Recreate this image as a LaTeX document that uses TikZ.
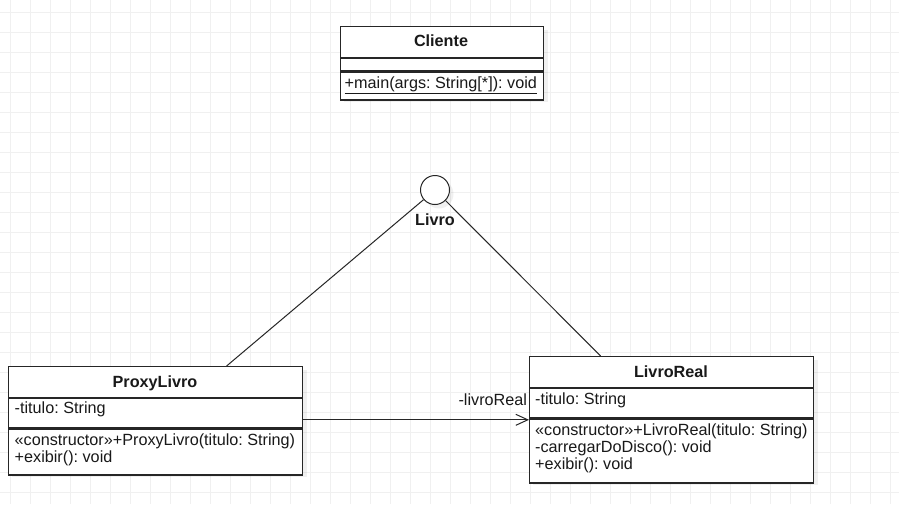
\documentclass[tikz,border=0pt]{standalone}
\usepackage{fontspec}
\setmainfont{Liberation Sans}
\usetikzlibrary{arrows.meta,calc}
\frenchspacing
\begin{document}
\begin{tikzpicture}[x=1pt,y=-1pt,
  gridst/.style={draw=black!6, line width=1pt},
  comp/.style={draw=black!85, line width=1.2pt, fill=white, rectangle, inner sep=0pt, anchor=north west},
  shadowst/.style={fill=black, opacity=0.06},
  txt/.style={inner sep=0pt, font=\fontsize{16.2}{17}\selectfont, text=black!90},
  btxt/.style={txt, font=\fontsize{16.2}{17}\selectfont\bfseries},
  edge/.style={draw=black!85, line width=1pt},
  assoc/.style={edge, -{Straight Barb[length=12pt,width=11pt,line width=1pt]}}
]
\useasboundingbox (0,0) rectangle (899,504);
\fill[white] (0,0) rectangle (899,504);
% grid
\foreach \gx in {10,30,...,890} \draw[gridst] (\gx,0) -- (\gx,504);
\foreach \gy in {12,32,...,492} \draw[gridst] (0,\gy) -- (899,\gy);

% shadows
\fill[shadowst] (344,30) rectangle (548,102);
\fill[shadowst] (12,370) rectangle (307,477);
\fill[shadowst] (533,360) rectangle (818,485);
\fill[shadowst] (439,194) circle (14.5);

% Cliente
\node[comp, minimum width=203pt, minimum height=31pt] (clH) at (340,26) {};
\node[comp, minimum width=203pt, minimum height=12pt] (clA) at (clH.south west) {};
\node[comp, minimum width=203pt, minimum height=28pt] (clM) at (clA.south west) {};
\node[btxt, anchor=base] (clHt) at (441,46.5) {Cliente};
\node[txt, anchor=base west] (clMt) at (344.5,88) {\underline{+main(args: String[*]): void}};

% Livro interface
\node[circle, draw=black!85, line width=1pt, fill=white, minimum size=29pt, inner sep=0pt] (livro) at (435,190) {};
\node[btxt, anchor=base] (livroL) at (435,225) {Livro};

% ProxyLivro
\node[comp, minimum width=294pt, minimum height=31pt] (pxH) at (8,366) {};
\node[comp, minimum width=294pt, minimum height=29pt] (pxA) at (pxH.south west) {};
\node[comp, minimum width=294pt, minimum height=46pt] (pxM) at (pxA.south west) {};
\node[btxt, anchor=base] (pxHt) at (155,387) {ProxyLivro};
\node[txt, anchor=base west] (pxAt) at (14.5,413.5) {-titulo: String};
\node[txt, anchor=base west] (pxM1) at (14.5,445) {«constructor»+ProxyLivro(titulo: String)};
\node[txt, anchor=base west] (pxM2) at (14.5,462) {+exibir(): void};

% LivroReal
\node[comp, minimum width=284pt, minimum height=31pt] (lrH) at (529,356) {};
\node[comp, minimum width=284pt, minimum height=29pt] (lrA) at (lrH.south west) {};
\node[comp, minimum width=284pt, minimum height=64pt] (lrM) at (lrA.south west) {};
\node[btxt, anchor=base] (lrHt) at (671,377) {LivroReal};
\node[txt, anchor=base west] (lrAt) at (535,404) {-titulo: String};
\node[txt, anchor=base west] (lrM1) at (535,435) {«constructor»+LivroReal(titulo: String)};
\node[txt, anchor=base west] (lrM2) at (535,452) {-carregarDoDisco(): void};
\node[txt, anchor=base west] (lrM3) at (535,469) {+exibir(): void};

% connectors
\draw[edge] (livro) -- ([xshift=71pt]pxH.north);
\draw[edge] (livro) -- ([xshift=-71pt]lrH.north);
\draw[assoc] ([yshift=-6.5pt]pxA.east) -- ([yshift=-6.5pt]pxA.east -| lrH.west)
  node[txt, pos=1, anchor=base east, xshift=-1.5pt, yshift=14.5pt] (rlab) {-livroReal};
\end{tikzpicture}
\end{document}
